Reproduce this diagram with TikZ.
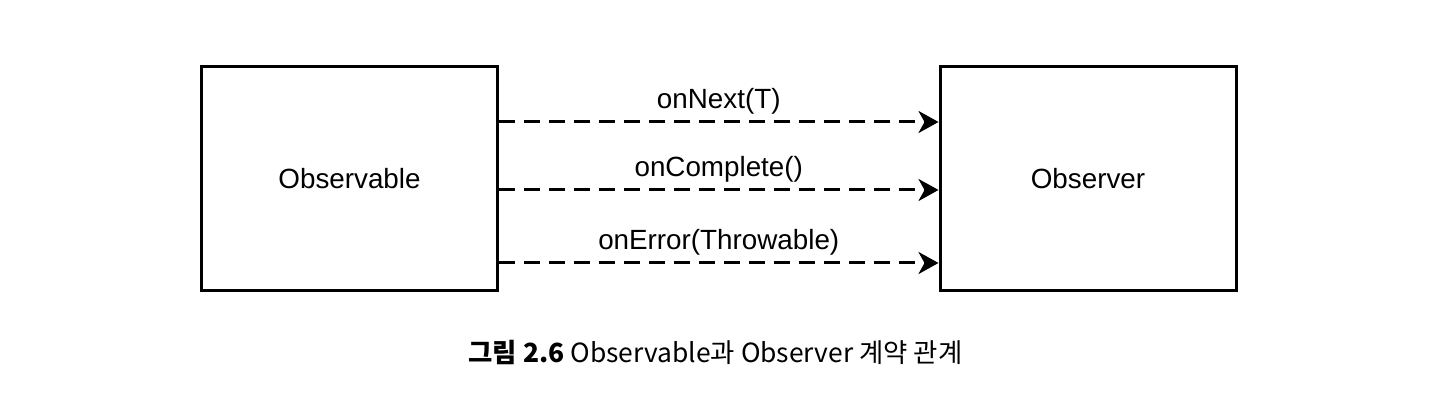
\documentclass[tikz,border=0pt]{standalone}
\usepackage{fontspec}
\setmainfont{Liberation Sans}
\newfontfamily\krfont{Noto Sans CJK KR}
\usetikzlibrary{arrows.meta}

\begin{document}
\begin{tikzpicture}[x=0.5pt, y=0.5pt,
    box/.style={draw, line width=1.5pt, minimum width=148pt, minimum height=112pt,
      font=\fontsize{13.9}{16}\selectfont},
    msg/.style={draw, line width=1.5pt, dash pattern=on 8pt off 4.5pt,
      -{Stealth[length=10pt, width=11pt, inset=3pt]}},
    lbl/.style={font=\fontsize{13.9}{16}\selectfont, above=0pt}]
  \useasboundingbox (0,0) rectangle (1454,400);

  \node[box] (obs) at (349.5,221) {Observable};
  \node[box] (obr) at (1088,221) {Observer};

  \draw[msg] ([yshift=28.5pt]obs.east) -- node[lbl] {onNext(T)} ([yshift=28.5pt]obr.west);
  \draw[msg] ([yshift=-5.5pt]obs.east) -- node[lbl] {onComplete()} ([yshift=-5.5pt]obr.west);
  \draw[msg] ([yshift=-42pt]obs.east) -- node[lbl] {onError(Throwable)} ([yshift=-42pt]obr.west);

  \node[font=\krfont\fontsize{13.2}{15}\selectfont] (cap) at (715.5,48)
    {\textbf{그림 2.6} Observable과 Observer 계약 관계};
\end{tikzpicture}
\end{document}
